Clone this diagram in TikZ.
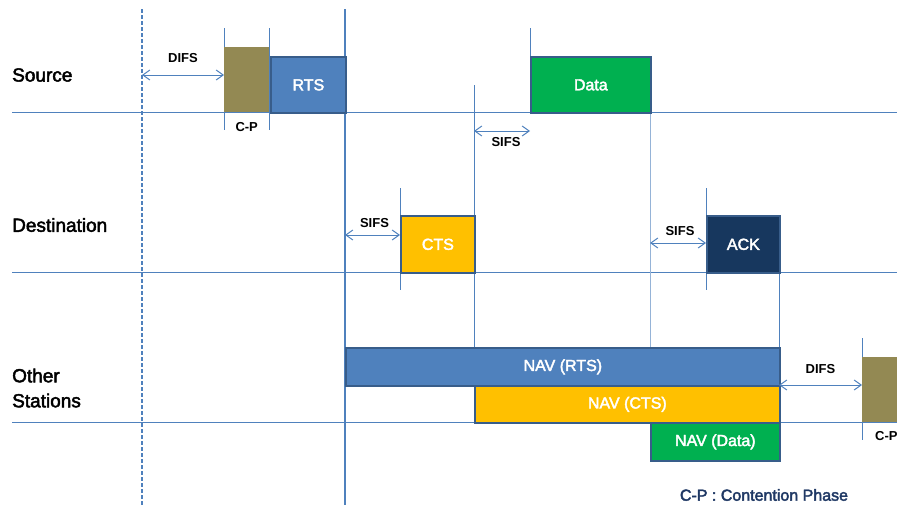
\documentclass[tikz,border=0pt]{standalone}
\usepackage{fontspec}
\setmainfont{Liberation Sans}[UprightFeatures={FakeBold=2.5}]
\usepackage{tikz}
\usetikzlibrary{arrows.meta}

\definecolor{lineblue}{HTML}{4F81BD}
\definecolor{edgeblue}{HTML}{385D8A}
\definecolor{ctsyellow}{HTML}{FFC000}
\definecolor{datagreen}{HTML}{00B050}
\definecolor{acknavy}{HTML}{17375E}
\definecolor{cpolive}{HTML}{938953}
\definecolor{legendblue}{HTML}{1F3864}

\tikzset{
  frame/.style={draw=edgeblue, line width=1.7pt, anchor=north west, inner sep=0pt,
    text=white, font=\fontsize{16}{18}\selectfont},
  cpbox/.style={fill=cpolive, anchor=north west, inner sep=0pt},
  tick/.style={draw=lineblue, line width=0.8pt},
  gap/.style={draw=lineblue, line width=1pt,
    {Straight Barb[length=7pt,width=10pt]}-{Straight Barb[length=7pt,width=10pt]}},
  gaplabel/.style={font=\bfseries\fontsize{13}{15}\selectfont, inner sep=1pt},
  rowlabel/.style={anchor=west, align=left, inner sep=0pt, font=\fontsize{19}{25}\selectfont}
}

\begin{document}
\begin{tikzpicture}[x=1pt,y=-1pt]
  \useasboundingbox (0,0) rectangle (897,506);

  % station time lines
  \draw[tick] (12,112) -- (897,112);
  \draw[tick] (12,272) -- (897,272);
  \draw[tick] (12,422) -- (897,422);
  \draw[lineblue, line width=1.3pt, dash pattern=on 4pt off 2pt] (142,9) -- (142,506);
  \draw[lineblue, line width=2pt] (345,9) -- (345,505);

  % frame borders
  \draw[tick] (224,28) -- (224,130);
  \draw[tick] (269,28) -- (269,130);
  \draw[tick] (530,28) -- (530,56);
  \draw[tick] (474,85) -- (474,385);
  \draw[tick] (400,188) -- (400,290);
  \draw[tick] (706,188) -- (706,290);
  \draw[tick, draw=lineblue!60] (650,112) -- (650,347);
  \draw[tick] (779,272) -- (779,347);
  \draw[tick] (862,338) -- (862,440);

  \draw (12,75) node[rowlabel] (src) {Source};
  \draw (12,225) node[rowlabel] (dst) {Destination};
  \draw (12,388) node[rowlabel] (oth) {Other\\Stations};

  \draw (224,47) node[cpbox, minimum width=45pt, minimum height=65pt] (cpa) {};
  \draw (270,56) node[frame, fill=lineblue, minimum width=75pt, minimum height=56pt] (rts) {RTS};
  \draw (530,56) node[frame, fill=datagreen, minimum width=120pt, minimum height=56pt] (data) {Data};
  \draw (400,215) node[frame, fill=ctsyellow, minimum width=74pt, minimum height=57pt] (cts) {CTS};
  \draw (706,215) node[frame, fill=acknavy, minimum width=73pt, minimum height=57pt] (ack) {ACK};
  \draw (345,347) node[frame, fill=lineblue, minimum width=434pt, minimum height=38pt] (navrts) {NAV (RTS)};
  \draw (474,385) node[frame, fill=ctsyellow, minimum width=305pt, minimum height=37pt] (navcts) {NAV (CTS)};
  \draw (650,422) node[frame, fill=datagreen, minimum width=129pt, minimum height=38pt] (navdata) {NAV (Data)};
  \draw (862,357) node[cpbox, minimum width=45pt, minimum height=65pt] (cpb) {};

  \draw (cpa.south) node[gaplabel, below=9pt] (cpalab) {C-P};
  \draw (874,430) node[gaplabel, anchor=north west] (cpblab) {C-P};

  \coordinate (difsa) at (142,75);
  \coordinate (sifsa) at (474,131);
  \coordinate (sifsb) at (345,235);
  \coordinate (sifsc) at (650,243);
  \coordinate (difsb) at (779,385);

  \path (difsa) edge[gap] node[gaplabel, above=11pt] (difsalab) {DIFS} (difsa -| cpa.west);
  \path (sifsa) edge[gap] node[gaplabel, below=5pt, xshift=4pt] (sifsalab) {SIFS} (sifsa -| data.west);
  \path (sifsb) edge[gap] node[gaplabel, above=6pt, xshift=2pt] (sifsblab) {SIFS} (sifsb -| cts.west);
  \path (sifsc) edge[gap] node[gaplabel, above=6pt, xshift=2pt] (sifsclab) {SIFS} (sifsc -| ack.west);
  \path (difsb) edge[gap] node[gaplabel, above=10pt] (difsblab) {DIFS} (difsb -| cpb.west);

  \draw (764,495) node[text=legendblue, font=\fontsize{16}{18}\selectfont] (legend) {C-P : Contention Phase};
\end{tikzpicture}
\end{document}
